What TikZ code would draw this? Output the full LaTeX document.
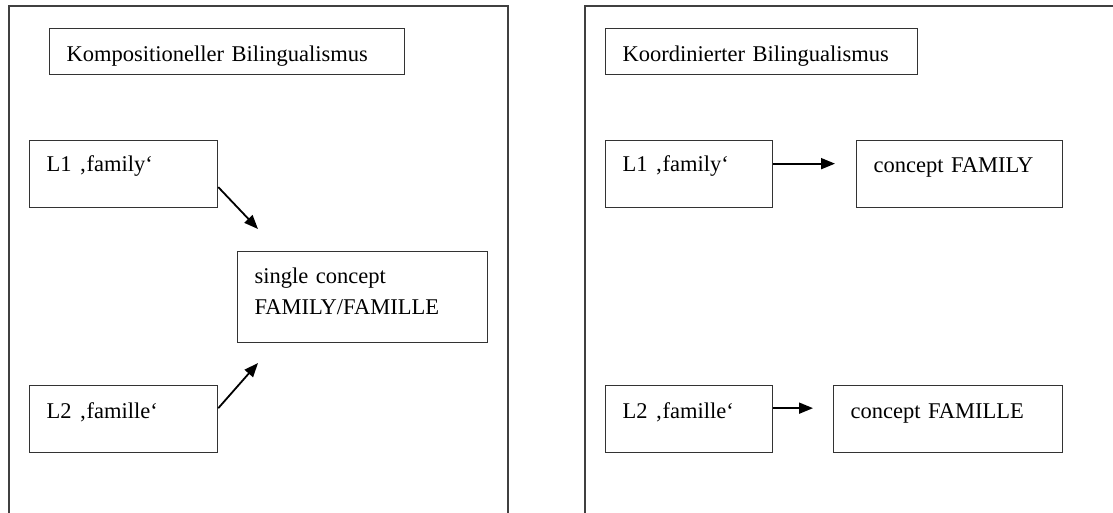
\documentclass[tikz,border=0pt]{standalone}
\usepackage{fontspec}
\setmainfont{Liberation Serif}
\usetikzlibrary{arrows.meta,positioning}

\begin{document}
\begin{tikzpicture}[x=1pt,y=-1pt,
    box/.style={draw=black!80, line width=1.3pt, anchor=north west, align=left,
        inner xsep=17pt, inner ysep=0pt, font=\fontsize{22.5}{31}\selectfont},
    frame/.style={draw=black!75, line width=1.7pt},
    arr/.style={-{Stealth[length=14pt,width=11pt,inset=0pt]}, line width=1.8pt, black}]

    \useasboundingbox (0,0) rectangle (1113,512);

    % outer frames (cut off below)
    \draw[frame] (9,530) -- (9,6) -- (508,6) -- (508,530);
    \draw[frame] (585,530) -- (585,6) -- (1130,6);

    % left panel
    \node[box, text width=321pt, text height=33pt, text depth=13pt] (kompT) at (49,28) {Kompositioneller Bilingualismus};
    \node[box, text width=154pt, text height=31pt, text depth=36pt] (famL1) at (29,140) {L1 ‚family‘};
    \node[box, text width=216pt, text height=32pt, text depth=59pt] (conS) at (237,251) {single concept\\FAMILY/FAMILLE};
    \node[box, text width=154pt, text height=33pt, text depth=34pt] (famL2) at (29,385) {L2 ‚famille‘};

    \coordinate (tipA) at (258,229);
    \coordinate (tipB) at (258,363);
    \draw[arr] ([yshift=-13pt]famL1.east) -- (tipA);
    \draw[arr] ([yshift=11pt]famL2.east) -- (tipB);

    % right panel
    \node[box, text width=278pt, text height=33pt, text depth=13pt] (koordT) at (605,28) {Koordinierter Bilingualismus};
    \node[box, text width=133pt, text height=31pt, text depth=36pt] (famR1) at (605,140) {L1 ‚family‘};
    \node[box, text width=172pt, text height=32pt, text depth=35pt] (conF) at (856,140) {concept FAMILY};
    \node[box, text width=133pt, text height=33pt, text depth=34pt] (famR2) at (605,385) {L2 ‚famille‘};
    \node[box, text width=195pt, text height=33pt, text depth=34pt] (conE) at (833,385) {concept FAMILLE};

    \draw[arr, shorten >=21pt] ([yshift=10.5pt]famR1.east) -- ([yshift=10.5pt]conF.west);
    \draw[arr, shorten >=20pt] ([yshift=11pt]famR2.east) -- ([yshift=11pt]conE.west);

\end{tikzpicture}
\end{document}
